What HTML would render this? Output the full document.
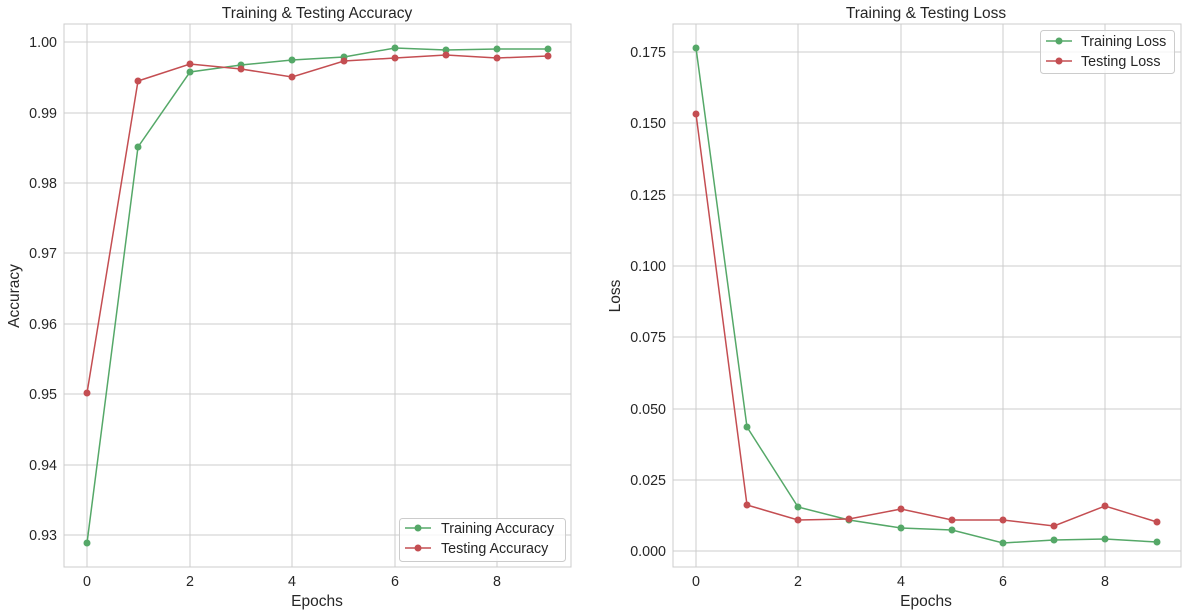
<!DOCTYPE html>
<html><head><style>body{margin:0;background:#fff}svg{display:block}text{font-family:"Liberation Sans","DejaVu Sans",sans-serif;fill:#262626}</style></head><body>
<svg width="1187" height="615" xmlns="http://www.w3.org/2000/svg">
<g stroke="#cccccc" stroke-width="1">
<line x1="87" y1="24" x2="87" y2="567"/><line x1="190" y1="24" x2="190" y2="567"/><line x1="292" y1="24" x2="292" y2="567"/><line x1="395" y1="24" x2="395" y2="567"/><line x1="497" y1="24" x2="497" y2="567"/>
<line x1="64" y1="535" x2="571" y2="535"/><line x1="64" y1="465" x2="571" y2="465"/><line x1="64" y1="394" x2="571" y2="394"/><line x1="64" y1="324" x2="571" y2="324"/><line x1="64" y1="253" x2="571" y2="253"/><line x1="64" y1="183" x2="571" y2="183"/><line x1="64" y1="113" x2="571" y2="113"/><line x1="64" y1="42" x2="571" y2="42"/>
<rect x="64" y="24" width="507" height="543" fill="none"/>
<line x1="696" y1="24" x2="696" y2="567"/><line x1="798" y1="24" x2="798" y2="567"/><line x1="901" y1="24" x2="901" y2="567"/><line x1="1003" y1="24" x2="1003" y2="567"/><line x1="1105" y1="24" x2="1105" y2="567"/>
<line x1="673" y1="551" x2="1181" y2="551"/><line x1="673" y1="480" x2="1181" y2="480"/><line x1="673" y1="409" x2="1181" y2="409"/><line x1="673" y1="337" x2="1181" y2="337"/><line x1="673" y1="266" x2="1181" y2="266"/><line x1="673" y1="195" x2="1181" y2="195"/><line x1="673" y1="123" x2="1181" y2="123"/><line x1="673" y1="52" x2="1181" y2="52"/>
<rect x="673" y="24" width="508" height="543" fill="none"/>
</g>
<g font-size="14.3" text-anchor="end">
<text x="57" y="540">0.93</text><text x="57" y="470">0.94</text><text x="57" y="399">0.95</text><text x="57" y="329">0.96</text><text x="57" y="258">0.97</text><text x="57" y="188">0.98</text><text x="57" y="118">0.99</text><text x="57" y="47">1.00</text>
<text x="666" y="556">0.000</text><text x="666" y="485">0.025</text><text x="666" y="414">0.050</text><text x="666" y="342">0.075</text><text x="666" y="271">0.100</text><text x="666" y="200">0.125</text><text x="666" y="128">0.150</text><text x="666" y="57">0.175</text>
</g>
<g font-size="14.3" text-anchor="middle">
<text x="87" y="586">0</text><text x="190" y="586">2</text><text x="292" y="586">4</text><text x="395" y="586">6</text><text x="497" y="586">8</text>
<text x="696" y="586">0</text><text x="798" y="586">2</text><text x="901" y="586">4</text><text x="1003" y="586">6</text><text x="1105" y="586">8</text>
<text x="317" y="606" font-size="15.5">Epochs</text><text x="926" y="606" font-size="15.5">Epochs</text>
<text x="317" y="18" font-size="15.5">Training &amp; Testing Accuracy</text><text x="926" y="18" font-size="15.5">Training &amp; Testing Loss</text>
<text x="0" y="0" font-size="15.5" transform="translate(19,296) rotate(-90)">Accuracy</text>
<text x="0" y="0" font-size="15.5" transform="translate(620,296) rotate(-90)">Loss</text>
</g>
<g fill="none" stroke-width="1.5">
<polyline stroke="#55a868" points="87,543 138,147 190,72 241,65 292,60 344,57 395,48 446,50 497,49 548,49"/>
<polyline stroke="#c44e52" points="87,393 138,81 190,64 241,69 292,77 344,61 395,58 446,55 497,58 548,56"/>
<polyline stroke="#55a868" points="696,48 747,427 798,507 849,520 901,528 952,530 1003,543 1054,540 1105,539 1157,542"/>
<polyline stroke="#c44e52" points="696,114 747,505 798,520 849,519 901,509 952,520 1003,520 1054,526 1105,506 1157,522"/>
</g>
<g fill="#55a868">
<circle cx="87" cy="543" r="3.5"/><circle cx="138" cy="147" r="3.5"/><circle cx="190" cy="72" r="3.5"/><circle cx="241" cy="65" r="3.5"/><circle cx="292" cy="60" r="3.5"/><circle cx="344" cy="57" r="3.5"/><circle cx="395" cy="48" r="3.5"/><circle cx="446" cy="50" r="3.5"/><circle cx="497" cy="49" r="3.5"/><circle cx="548" cy="49" r="3.5"/>
<circle cx="696" cy="48" r="3.5"/><circle cx="747" cy="427" r="3.5"/><circle cx="798" cy="507" r="3.5"/><circle cx="849" cy="520" r="3.5"/><circle cx="901" cy="528" r="3.5"/><circle cx="952" cy="530" r="3.5"/><circle cx="1003" cy="543" r="3.5"/><circle cx="1054" cy="540" r="3.5"/><circle cx="1105" cy="539" r="3.5"/><circle cx="1157" cy="542" r="3.5"/>
</g>
<g fill="#c44e52">
<circle cx="87" cy="393" r="3.5"/><circle cx="138" cy="81" r="3.5"/><circle cx="190" cy="64" r="3.5"/><circle cx="241" cy="69" r="3.5"/><circle cx="292" cy="77" r="3.5"/><circle cx="344" cy="61" r="3.5"/><circle cx="395" cy="58" r="3.5"/><circle cx="446" cy="55" r="3.5"/><circle cx="497" cy="58" r="3.5"/><circle cx="548" cy="56" r="3.5"/>
<circle cx="696" cy="114" r="3.5"/><circle cx="747" cy="505" r="3.5"/><circle cx="798" cy="520" r="3.5"/><circle cx="849" cy="519" r="3.5"/><circle cx="901" cy="509" r="3.5"/><circle cx="952" cy="520" r="3.5"/><circle cx="1003" cy="520" r="3.5"/><circle cx="1054" cy="526" r="3.5"/><circle cx="1105" cy="506" r="3.5"/><circle cx="1157" cy="522" r="3.5"/>
</g>
<rect x="399.5" y="518.5" width="166" height="43" rx="3" fill="#fff" fill-opacity="0.8" stroke="#cccccc"/>
<line x1="405" y1="528" x2="431" y2="528" stroke="#55a868" stroke-width="1.5"/><circle cx="418" cy="528" r="3.5" fill="#55a868"/>
<line x1="405" y1="548" x2="431" y2="548" stroke="#c44e52" stroke-width="1.5"/><circle cx="418" cy="548" r="3.5" fill="#c44e52"/>
<text x="441" y="533" font-size="14.3">Training Accuracy</text><text x="441" y="553" font-size="14.3">Testing Accuracy</text>
<rect x="1040.5" y="30.5" width="134" height="43" rx="3" fill="#fff" fill-opacity="0.8" stroke="#cccccc"/>
<line x1="1046" y1="41" x2="1072" y2="41" stroke="#55a868" stroke-width="1.5"/><circle cx="1059" cy="41" r="3.5" fill="#55a868"/>
<line x1="1046" y1="61" x2="1072" y2="61" stroke="#c44e52" stroke-width="1.5"/><circle cx="1059" cy="61" r="3.5" fill="#c44e52"/>
<text x="1081" y="46" font-size="14.3">Training Loss</text><text x="1081" y="66" font-size="14.3">Testing Loss</text>
</svg>
</body></html>
